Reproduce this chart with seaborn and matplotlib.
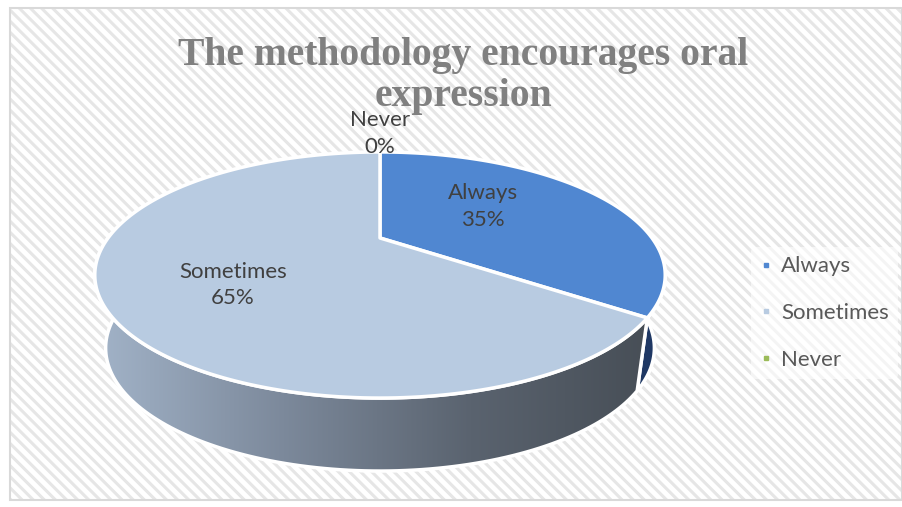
import numpy as np
import matplotlib
matplotlib.use("Agg")
import matplotlib.pyplot as plt
import seaborn as sns
from matplotlib.patches import Polygon, Rectangle
from matplotlib.lines import Line2D
from matplotlib.colors import LinearSegmentedColormap

# ---- data ----
categories = ["Always", "Sometimes", "Never"]
values = [35, 65, 0]
pct_labels = ["35%", "65%", "0%"]
title = "The methodology encourages oral\nexpression"

sns.set_theme(style="white")
palette = sns.color_palette(["#5087d1", "#b8cbe1", "#9bbb59"])
plt.rcParams["font.family"] = ["Lato", "DejaVu Sans"]
plt.rcParams["hatch.linewidth"] = 2.2
plt.rcParams["hatch.color"] = "#e6e6e6"

W, H = 903, 507
fig = plt.figure(figsize=(W / 100, H / 100), dpi=100)
ax = fig.add_axes([0, 0, 1, 1])
ax.set_xlim(0, W)
ax.set_ylim(H, 0)
ax.axis("off")

# background with diagonal hatch
ax.add_patch(Rectangle((0, 0), W, H, facecolor="white", edgecolor="none", zorder=0))
ax.add_patch(Rectangle((10, 8), W - 11, 492, facecolor="white", edgecolor="#e6e6e6",
                       hatch="\\\\\\", lw=0, zorder=0.5))
ax.add_patch(Rectangle((10, 8), W - 11, 492, facecolor="none", edgecolor="#d9d9d9",
                       lw=1.5, zorder=0.6))

# ---- 3D pie geometry ----
CX, CY = 380, 238
RX, A, B = 272, 111.9, 0.3008
THICK, SHRINK = 73, 0.962


def proj(phi_deg, r=1.0, bottom=False):
    phi = np.radians(phi_deg)
    X = r * np.sin(phi)
    D = -r * np.cos(phi)
    s = 1.0 / (1.0 - B * D)
    x = CX + RX * X * s
    y = CY + A * D * s
    if bottom:
        x = CX + (x - CX) * SHRINK
        y = y + THICK
    return x, y


total = float(sum(values))
angles = np.cumsum([0] + [v / total * 360 for v in values])


def wall_poly(a0, a1):
    ph = np.linspace(a0, a1, 120)
    xt, yt = proj(ph)
    xb, yb = proj(ph[::-1], bottom=True)
    return np.column_stack([np.r_[xt, xb], np.r_[yt, yb]])


# Always outer wall (visible sliver on the right)
a0, a1 = angles[0], angles[1]
p_al = Polygon(wall_poly(max(a0, 95), a1), closed=True, facecolor="#1f3864",
               edgecolor="white", lw=2.5, zorder=2, joinstyle="round")
ax.add_patch(p_al)

# Sometimes outer wall with horizontal gradient
s0, s1 = angles[1], angles[2]
p_so = Polygon(wall_poly(s0, min(s1, 275)), closed=True, facecolor="none",
               edgecolor="white", lw=2.5, zorder=3, joinstyle="round")
ax.add_patch(p_so)
cmap = LinearSegmentedColormap.from_list("wall", ["#a2b3c8", "#7c899b", "#5a636f", "#464d55"])
grad = np.linspace(0, 1, 256).reshape(1, -1)
im = ax.imshow(grad, cmap=cmap, extent=(95, 660, 490, 230), aspect="auto", zorder=2.5)
clip = Polygon(wall_poly(s0, min(s1, 275)), closed=True, transform=ax.transData)
im.set_clip_path(clip)

# top faces
for i, (v, c) in enumerate(zip(values, palette)):
    if v <= 0:
        continue
    ph = np.linspace(angles[i], angles[i + 1], 200)
    xs, ys = proj(ph)
    pts = np.column_stack([np.r_[CX, xs], np.r_[CY, ys]])
    ax.add_patch(Polygon(pts, closed=True, facecolor=c, edgecolor="white", lw=2.5,
                         zorder=4, joinstyle="round"))

# data labels
label_r = [0.45, 0.56, 1.25]
label_dy = [-10, 16, -3]
for i, (cat, pl) in enumerate(zip(categories, pct_labels)):
    mid = (angles[i] + angles[i + 1]) / 2
    x, y = proj(mid, r=label_r[i])
    ax.text(x, y + label_dy[i], f"{cat}\n{pl}", ha="center", va="center", fontsize=16,
            color="#404040", linespacing=1.4, zorder=6)

# title
ax.text(463, 76, title, ha="center", va="center", fontsize=28.5, fontweight="bold",
        color="#808080", family=["Liberation Serif", "DejaVu Serif"], linespacing=1.12,
        zorder=5)

# legend
handles = [Line2D([0], [0], marker="s", linestyle="none", markersize=3.5,
                  markerfacecolor=c, markeredgecolor=c) for c in palette]
leg = ax.legend(handles, categories, loc="center left",
                bbox_to_anchor=(740 / W, 1 - 313 / H), bbox_transform=fig.transFigure,
                frameon=True, fontsize=16, labelcolor="#595959", handlelength=0.5,
                handletextpad=0.45, labelspacing=1.2, borderpad=0.4)
leg.get_frame().set_facecolor("white")
leg.get_frame().set_alpha(0.6)
leg.get_frame().set_edgecolor("none")
leg.set_zorder(7)

fig.savefig("out.png", dpi=100)
